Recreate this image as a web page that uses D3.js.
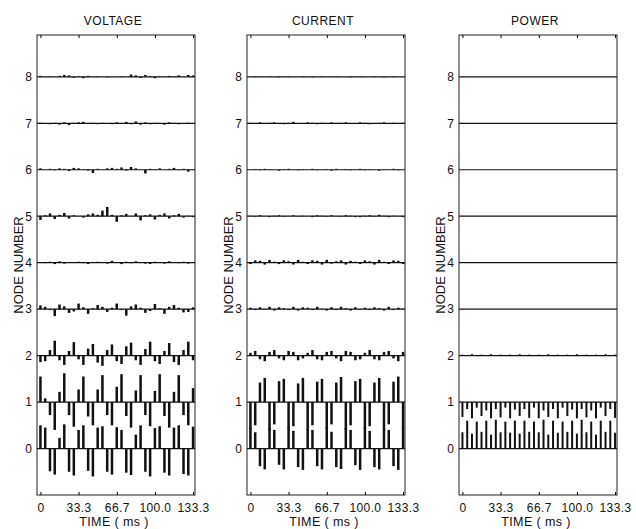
<!DOCTYPE html>
<html lang="en">
<head>
<meta charset="UTF-8">
<script src="https://cdn.jsdelivr.net/npm/d3@7/dist/d3.min.js"></script>
<title>Voltage, current and power by node</title>
<style>
  body { margin: 0; background: #fff; }
  svg { display: block; background: #fff; }
  text { font-family: "Liberation Sans", Arial, Helvetica, sans-serif; fill: #111; }
  .frame { fill: none; stroke: #222; stroke-width: 1; }
  .base { stroke: #111; stroke-width: 1.2; }
  .stem { fill: #111; }
</style>
</head>
<body>
<div id="chart"></div>
<script>
// sample spacing: 4 samples per 60 Hz cycle, 0 .. 133.3 ms
var timeStep = 133.3 / 32;
var nodes = [0, 1, 2, 3, 4, 5, 6, 7, 8];
var xTicks = [0, 33.3, 66.7, 100.0, 133.3];
var panelTitles = ["VOLTAGE", "CURRENT", "POWER"];

// VOLTAGE, one array per node (node units)
var voltage0 = [0.50, 0.45, -0.49, -0.56, 0.23, 0.52, -0.50, -0.58, 0.40, 0.50, -0.48, -0.60, 0.45, 0.48, -0.50, -0.56, 0.46, 0.40, -0.52, -0.57, 0.30, 0.50, -0.50, -0.60, 0.44, 0.48, -0.52, -0.58, 0.45, 0.50, -0.55, -0.58, 0.47];
var voltage1 = [0.55, 0.08, -0.28, -0.60, 0.22, 0.62, -0.28, -0.53, 0.27, 0.55, -0.31, -0.50, 0.27, 0.58, -0.28, -0.50, 0.33, 0.60, -0.30, -0.55, 0.25, 0.58, -0.28, -0.52, 0.24, 0.60, -0.30, -0.55, 0.22, 0.58, -0.28, -0.50, 0.30];
var voltage2 = [-0.14, -0.12, 0.12, 0.32, -0.10, -0.20, 0.10, 0.29, -0.08, -0.20, 0.15, 0.25, -0.15, -0.22, 0.12, 0.24, -0.12, -0.18, 0.20, 0.28, -0.10, -0.20, 0.14, 0.30, -0.12, -0.18, 0.10, 0.27, -0.14, -0.20, 0.12, 0.30, -0.10];
var voltage3 = [0.08, 0.05, -0.02, -0.15, 0.10, 0.06, -0.08, -0.05, 0.12, 0.04, -0.10, 0.02, 0.09, 0.05, -0.06, 0.03, 0.12, -0.02, -0.14, 0.06, 0.10, 0.03, -0.08, -0.04, 0.11, 0.02, -0.10, 0.05, 0.09, 0.03, -0.07, -0.06, 0.04];
var voltage4 = [0.01, -0.01, 0.02, -0.03, 0.03, -0.02, 0.01, 0.00, 0.02, -0.01, -0.03, 0.01, 0.02, 0.00, -0.02, 0.04, 0.01, -0.03, 0.02, -0.01, 0.03, 0.01, -0.02, -0.03, 0.02, 0.00, -0.02, 0.03, 0.01, -0.01, 0.02, -0.02, 0.01];
var voltage5 = [-0.08, 0.02, 0.06, -0.06, 0.03, 0.07, -0.05, 0.02, 0.00, -0.03, 0.04, 0.06, 0.03, 0.12, 0.20, 0.03, -0.12, 0.02, 0.05, 0.00, 0.06, -0.09, 0.02, 0.04, -0.07, 0.03, 0.06, -0.05, 0.02, 0.05, -0.03, 0.01, -0.02];
var voltage6 = [0.03, 0.00, 0.02, -0.01, 0.03, 0.02, -0.03, 0.04, 0.03, 0.01, -0.02, -0.07, 0.02, 0.00, 0.03, 0.04, 0.02, 0.05, -0.02, 0.06, 0.03, 0.00, -0.08, 0.02, 0.01, 0.03, 0.00, 0.02, 0.04, -0.01, 0.02, -0.04, 0.01];
var voltage7 = [0.01, 0.00, -0.02, 0.01, -0.03, 0.02, -0.04, 0.01, 0.02, 0.03, 0.00, 0.01, -0.02, 0.01, 0.00, -0.02, 0.02, 0.00, 0.03, -0.02, 0.04, -0.03, 0.02, -0.02, 0.01, 0.00, -0.03, 0.02, 0.01, -0.02, 0.00, 0.01, -0.01];
var voltage8 = [0.02, 0.00, 0.01, 0.00, 0.02, 0.04, 0.03, -0.02, 0.01, -0.03, 0.02, 0.00, 0.01, 0.00, -0.01, 0.00, 0.00, 0.01, 0.00, 0.05, 0.03, -0.02, 0.04, 0.02, -0.03, 0.01, 0.00, 0.02, 0.01, 0.03, 0.00, 0.04, 0.03];

// CURRENT
var current0 = [0.45, 0.35, -0.38, -0.45, 0.44, 0.40, -0.35, -0.45, 0.45, 0.38, -0.40, -0.46, 0.42, 0.40, -0.38, -0.45, 0.45, 0.36, -0.40, -0.44, 0.44, 0.40, -0.36, -0.46, 0.45, 0.38, -0.40, -0.45, 0.42, 0.40, -0.38, -0.46, 0.44];
var current1 = [-0.58, -0.50, 0.42, 0.52, -0.60, -0.48, 0.45, 0.50, -0.58, -0.52, 0.40, 0.52, -0.60, -0.50, 0.44, 0.50, -0.58, -0.48, 0.42, 0.54, -0.60, -0.50, 0.45, 0.50, -0.58, -0.52, 0.42, 0.52, -0.60, -0.48, 0.44, 0.55, -0.58];
var current2 = [0.06, 0.10, -0.08, -0.12, 0.08, 0.12, -0.06, -0.10, 0.10, 0.08, -0.10, -0.06, 0.06, 0.12, -0.08, -0.10, 0.08, 0.10, -0.06, -0.12, 0.10, 0.08, -0.10, -0.08, 0.06, 0.12, -0.08, -0.10, 0.08, 0.10, -0.06, -0.12, 0.08];
var current3 = [0.03, -0.02, 0.04, -0.01, 0.05, -0.03, 0.04, 0.02, -0.02, 0.05, -0.03, 0.04, 0.03, -0.02, 0.05, 0.01, -0.03, 0.04, -0.02, 0.05, 0.02, -0.03, 0.04, -0.01, 0.03, -0.02, 0.04, 0.02, -0.03, 0.05, -0.02, 0.03, 0.01];
var current4 = [-0.03, 0.05, 0.04, -0.04, 0.06, 0.02, -0.03, 0.05, 0.03, -0.04, 0.06, 0.02, -0.03, 0.05, 0.04, -0.04, 0.06, -0.02, 0.03, 0.05, -0.04, 0.04, 0.02, -0.03, 0.05, 0.03, -0.04, 0.06, 0.02, -0.03, 0.05, 0.04, -0.03];
var current5 = [0.01, -0.01, 0.02, 0.00, -0.02, 0.01, 0.02, -0.01, 0.00, 0.02, -0.01, 0.01, 0.00, -0.02, 0.02, 0.01, -0.01, 0.02, 0.00, -0.01, 0.02, 0.01, -0.02, -0.02, 0.01, 0.02, -0.01, 0.03, 0.01, -0.02, 0.01, 0.00, -0.02];
var current6 = [0.00, 0.01, -0.01, 0.02, 0.01, 0.00, -0.02, 0.01, 0.02, 0.00, -0.01, 0.01, 0.00, 0.02, -0.01, 0.00, 0.01, -0.02, 0.02, 0.00, 0.01, -0.01, 0.00, 0.02, -0.01, 0.01, 0.00, -0.02, 0.01, 0.00, 0.02, -0.01, 0.00];
var current7 = [0.01, 0.00, 0.02, -0.01, 0.01, 0.02, 0.00, -0.02, 0.01, 0.03, -0.01, 0.00, 0.02, 0.01, -0.02, 0.01, 0.00, 0.02, -0.01, 0.01, 0.02, 0.00, -0.01, 0.02, 0.01, -0.02, 0.00, 0.01, 0.02, -0.01, 0.01, 0.00, 0.01];
var current8 = [0.00, 0.01, 0.00, 0.00, 0.01, 0.00, -0.01, 0.00, 0.01, 0.00, 0.00, 0.01, 0.00, -0.01, 0.00, 0.01, 0.00, 0.00, 0.01, 0.00, 0.00, -0.01, 0.00, 0.01, 0.00, 0.00, 0.01, 0.00, -0.01, 0.00, 0.01, 0.00, 0.00];

// POWER
var power0 = [0.35, 0.60, 0.32, 0.58, 0.36, 0.60, 0.30, 0.62, 0.35, 0.58, 0.34, 0.60, 0.32, 0.60, 0.36, 0.58, 0.35, 0.62, 0.30, 0.60, 0.34, 0.58, 0.36, 0.60, 0.32, 0.62, 0.35, 0.58, 0.30, 0.60, 0.36, 0.60, 0.34];
var power1 = [-0.32, -0.15, -0.35, -0.12, -0.30, -0.18, -0.35, -0.15, -0.33, -0.12, -0.35, -0.16, -0.30, -0.15, -0.34, -0.12, -0.35, -0.18, -0.32, -0.15, -0.35, -0.12, -0.30, -0.16, -0.35, -0.15, -0.33, -0.18, -0.35, -0.12, -0.30, -0.15, -0.34];
var power2 = [0.02, 0.01, 0.03, 0.01, 0.02, 0.01, 0.03, 0.00, 0.02, 0.01, 0.02, 0.01, 0.03, 0.01, 0.02, 0.00, 0.02, 0.01, 0.03, 0.01, 0.02, 0.01, 0.02, 0.00, 0.03, 0.01, 0.02, 0.01, 0.02, 0.01, 0.03, 0.01, 0.02];
var power3 = [0, 0, 0, 0, 0, 0, 0, 0, 0, 0, 0, 0, 0, 0, 0, 0, 0, 0, 0, 0, 0, 0, 0, 0, 0, 0, 0, 0, 0, 0, 0, 0, 0];
var power4 = [0, 0, 0, 0, 0, 0, 0, 0, 0, 0, 0, 0, 0, 0, 0, 0, 0, 0, 0, 0, 0, 0, 0, 0, 0, 0, 0, 0, 0, 0, 0, 0, 0];
var power5 = [0, 0, 0, 0, 0, 0, 0, 0, 0, 0, 0, 0, 0, 0, 0, 0, 0, 0, 0, 0, 0, 0, 0, 0, 0, 0, 0, 0, 0, 0, 0, 0, 0];
var power6 = [0, 0, 0, 0, 0, 0, 0, 0, 0, 0, 0, 0, 0, 0, 0, 0, 0, 0, 0, 0, 0, 0, 0, 0, 0, 0, 0, 0, 0, 0, 0, 0, 0];
var power7 = [0, 0, 0, 0, 0, 0, 0, 0, 0, 0, 0, 0, 0, 0, 0, 0, 0, 0, 0, 0, 0, 0, 0, 0, 0, 0, 0, 0, 0, 0, 0, 0, 0];
var power8 = [0, 0, 0, 0, 0, 0, 0, 0, 0, 0, 0, 0, 0, 0, 0, 0, 0, 0, 0, 0, 0, 0, 0, 0, 0, 0, 0, 0, 0, 0, 0, 0, 0];

var panelData = [
  [voltage0, voltage1, voltage2, voltage3, voltage4, voltage5, voltage6, voltage7, voltage8],
  [current0, current1, current2, current3, current4, current5, current6, current7, current8],
  [power0, power1, power2, power3, power4, power5, power6, power7, power8]
];

var width = 636, height = 529;
var panelLeft = [37, 247, 459];
var panelWidth = 158;
var stemWidth = [2.5, 2.5, 2];
var plotTop = 35, plotBottom = 495;

var svg = d3.select("#chart").append("svg")
  .attr("width", width)
  .attr("height", height);

var yScale = d3.scaleLinear().domain([-1, 8.9]).range([plotBottom, plotTop]);

panelTitles.forEach(function(title, p) {
  var left = panelLeft[p];
  var xScale = d3.scaleLinear().domain([-3, 135]).range([left, left + panelWidth]);
  var g = svg.append("g");

  // stems
  panelData[p].forEach(function(series, node) {
    g.selectAll(".stem-" + node)
      .data(series)
      .enter()
      .append("rect")
      .attr("class", "stem")
      .attr("x", function(d, i) { return xScale(i * timeStep) - stemWidth[p] / 2; })
      .attr("width", stemWidth[p])
      .attr("y", function(d) { return yScale(node + Math.max(d, 0)); })
      .attr("height", function(d) { return Math.abs(yScale(node) - yScale(node + d)); });
  });

  // node baselines
  g.selectAll(".base")
    .data(nodes)
    .enter()
    .append("line")
    .attr("class", "base")
    .attr("x1", left)
    .attr("x2", left + panelWidth)
    .attr("y1", function(d) { return yScale(d); })
    .attr("y2", function(d) { return yScale(d); });

  // frame
  g.append("rect")
    .attr("class", "frame")
    .attr("x", left)
    .attr("y", plotTop)
    .attr("width", panelWidth)
    .attr("height", plotBottom - plotTop);

  // x axes (ticks inward, top and bottom)
  var xb = g.append("g")
    .attr("transform", "translate(0," + plotBottom + ")")
    .call(d3.axisBottom(xScale).tickValues(xTicks).tickSize(-3).tickSizeOuter(0).tickPadding(8)
      .tickFormat(function(d) { return d === 0 ? "0" : d.toFixed(1); }));
  xb.select(".domain").remove();
  xb.selectAll("text").style("font-size", "12px").style("letter-spacing", "0.4px");

  var xt = g.append("g")
    .attr("transform", "translate(0," + plotTop + ")")
    .call(d3.axisTop(xScale).tickValues(xTicks).tickSize(-3).tickSizeOuter(0).tickFormat(""));
  xt.select(".domain").remove();

  // y axis labels
  var ya = g.append("g")
    .attr("transform", "translate(" + left + ",0)")
    .call(d3.axisLeft(yScale).tickValues(nodes).tickSize(0).tickPadding(5));
  ya.select(".domain").remove();
  ya.selectAll("text").style("font-size", "12px");

  // titles
  svg.append("text")
    .attr("x", left + panelWidth / 2 - 3)
    .attr("y", 25)
    .style("text-anchor", "middle")
    .style("font-size", "12px")
    .style("letter-spacing", "0.5px")
    .text(title);

  svg.append("text")
    .attr("x", left + panelWidth / 2 - 2)
    .attr("y", 526)
    .style("text-anchor", "middle")
    .style("font-size", "12.5px")
    .style("letter-spacing", "0.4px")
    .text("TIME ( ms )");

  svg.append("text")
    .attr("transform", "translate(" + (left - 14) + "," + 265 + ")rotate(-90)")
    .style("text-anchor", "middle")
    .style("font-size", "13px")
    .text("NODE NUMBER");
});
</script>
</body>
</html>
